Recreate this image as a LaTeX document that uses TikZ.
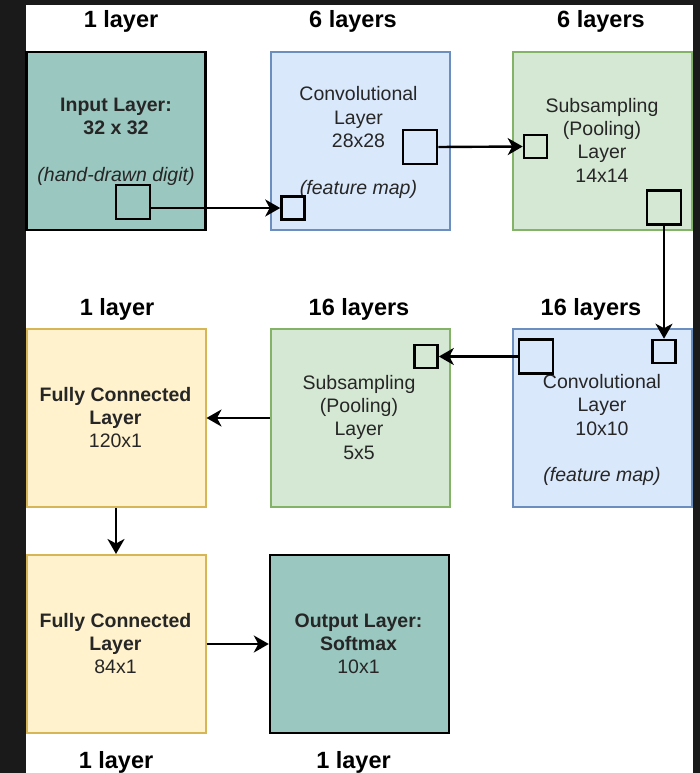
\documentclass[tikz,border=0pt]{standalone}
\usepackage{fontspec}
\setmainfont{Liberation Sans}
\usetikzlibrary{arrows.meta}

\definecolor{pagedark}{HTML}{1A1A1A}
\definecolor{tealfill}{HTML}{9AC7BF}
\definecolor{bluefill}{HTML}{DAE8FC}
\definecolor{blueline}{HTML}{6C8EBF}
\definecolor{greenfill}{HTML}{D5E8D4}
\definecolor{greenline}{HTML}{82B366}
\definecolor{yellowfill}{HTML}{FFF2CC}
\definecolor{yellowline}{HTML}{D6B656}

\tikzset{
  layerbox/.style={rectangle, draw, line width=2pt, inner sep=0pt,
    minimum width=179pt, minimum height=178pt},
  tealbox/.style={layerbox, fill=tealfill, draw=black, line width=2.4pt},
  bluebox/.style={layerbox, fill=bluefill, draw=blueline},
  greenbox/.style={layerbox, fill=greenfill, draw=greenline},
  yellowbox/.style={layerbox, fill=yellowfill, draw=yellowline},
  window/.style={rectangle, draw=black, line width=2.6pt, inner sep=0pt},
  bigwin/.style={window, minimum size=34pt},
  smallwin/.style={window, minimum size=23pt},
  header/.style={anchor=base, inner sep=0pt,
    font=\fontsize{23.5}{28}\selectfont\bfseries},
  % multi-line texts are anchored at the baseline of their last line
  boxtext/.style={anchor=base, inner sep=0pt, align=center,
    font=\fontsize{19.5}{23.3}\selectfont, text=black!85},
  flow/.style={draw=black, line width=2.4pt,
    -{Stealth[length=15pt, width=17pt, inset=4.5pt]}},
}

\begin{document}
\begin{tikzpicture}[x=1pt, y=-1pt]
  % page frame
  \fill[pagedark] (0,0) rectangle (700,773);
  \fill[white] (26,5) rectangle (692.5,773);
  \useasboundingbox (0,0) rectangle (700,773);

  % ---- row 1 ----
  \node[tealbox]  (input) at (116,141) {};
  \node[bluebox]  (conv1) at (360,141) {};
  \node[greenbox] (pool1) at (602.5,141) {};

  % ---- row 2 ----
  \node[yellowbox] (fc1)   at (116,418) {};
  \node[greenbox]  (pool2) at (360,418) {};
  \node[bluebox]   (conv2) at (602.5,418) {};

  % ---- row 3 ----
  \node[yellowbox] (fc2)    at (116,644) {};
  \node[tealbox]   (output) at (359.5,644) {};

  % headers
  \node[header] (h1) at (121,27.7) {1 layer};
  \node[header] (h2) at (353,27.7) {6 layers};
  \node[header] (h3) at (601,27.7) {6 layers};
  \node[header] (h4) at (117,315) {1 layer};
  \node[header] (h5) at (359,315) {16 layers};
  \node[header] (h6) at (591,315) {16 layers};
  \node[header] (h7) at (116,768) {1 layer};
  \node[header] (h8) at (353.5,768) {1 layer};

  % box texts
  \node[boxtext] (tinput) at (116,181.5)
    {\bfseries Input Layer:\\ \bfseries 32 x 32\\[23.3pt] \itshape (hand-drawn digit)};
  \node[boxtext] (tconv1) at (358.5,194)
    {Convolutional\\ Layer\\ 28x28\\[23.3pt] \itshape (feature map)};
  \node[boxtext] (tpool1) at (602,182)
    {Subsampling\\ (Pooling)\\ Layer\\ 14x14};
  \node[boxtext] (tconv2) at (602,481.7)
    {Convolutional\\ Layer\\ 10x10\\[23.3pt] \itshape (feature map)};
  \node[boxtext] (tpool2) at (359,459)
    {Subsampling\\ (Pooling)\\ Layer\\ 5x5};
  \node[boxtext] (tfc1) at (115.5,447.6)
    {\bfseries Fully Connected\\ \bfseries Layer\\ 120x1};
  \node[boxtext] (tfc2) at (115.5,673.6)
    {\bfseries Fully Connected\\ \bfseries Layer\\ 84x1};
  \node[boxtext] (tout) at (358.5,673.6)
    {\bfseries Output Layer:\\ \bfseries Softmax\\ 10x1};

  % receptive-field windows
  \node[bigwin]   (winA) at (133,202) {};
  \node[smallwin] (winB) at (293,208) {};
  \node[bigwin]   (winC) at (420,147) {};
  \node[smallwin] (winD) at (535.5,146.5) {};
  \node[bigwin]   (winE) at (664,207.5) {};
  \node[smallwin] (winF) at (664,351.5) {};
  \node[bigwin]   (winG) at (536,356.5) {};
  \node[smallwin] (winH) at (426,356.5) {};

  % connectors
  \draw[flow] (winA.east |- winB) -- (winB.west);
  \draw[flow] (winC.east) -- (winD.west);
  \draw[flow] (winE.south) -- (winF.north);
  \draw[flow] (winG.west) -- (winH.east);
  \draw[flow] (pool2.west) -- (fc1.east);
  \draw[flow] (fc1.south) -- (fc2.north);
  \draw[flow] (fc2.east) -- (output.west);
\end{tikzpicture}
\end{document}
